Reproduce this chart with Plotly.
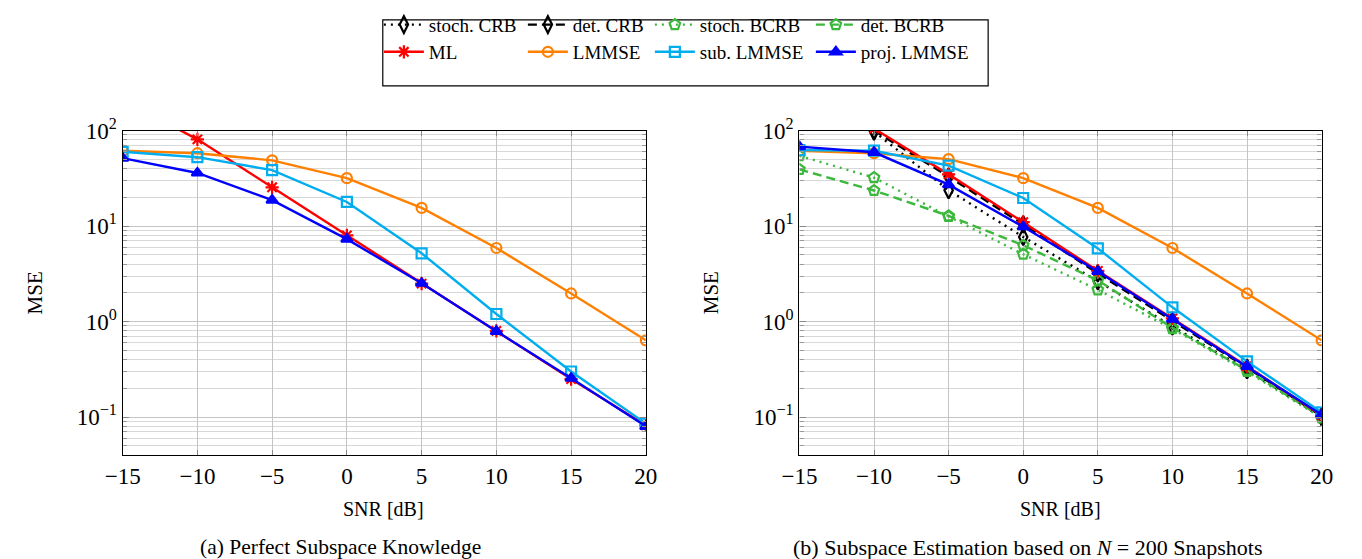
import plotly.graph_objects as go
import numpy as np

W, H = 1362, 559

snr = [-15, -10, -5, 0, 5, 10, 15, 20]

# (a) Perfect subspace knowledge
a_ml = [210, 81, 25.5, 8.0, 2.5, 0.80, 0.25, 0.082]
a_lmmse = [61.6, 58, 48.8, 31.8, 15.5, 5.9, 1.97, 0.636]
a_sub = [60, 52.7, 38.6, 17.9, 5.19, 1.2, 0.30, 0.0855]
a_proj = [51.5, 36, 18.7, 7.3, 2.52, 0.79, 0.255, 0.08]

# (b) Subspace estimation, N = 200 snapshots
b_stoch_crb = [None, 97.7, 23.8, 7.7, 2.65, 0.89, 0.31, 0.100]
b_det_crb = [None, 100, 33, 10.4, 3.2, 1.02, 0.33, 0.102]
b_stoch_bcrb = [54.5, 32.2, 12.6, 5.07, 2.15, 0.84, 0.30, 0.098]
b_det_bcrb = [39.2, 23.6, 12.8, 6.3, 2.7, 0.86, 0.31, 0.100]
b_ml = [None, 105, 34.8, 11.0, 3.4, 1.08, 0.34, 0.104]
b_lmmse = [61.6, 58, 50.3, 31.8, 15.5, 5.9, 1.97, 0.636]
b_sub = [62.6, 61.6, 43, 19.7, 5.84, 1.41, 0.383, 0.112]
b_proj = [68, 59.3, 27.2, 9.85, 3.35, 1.06, 0.34, 0.106]

ytick_vals = [0.1, 1, 10, 100]
ytick_text = ["10<sup>\u22121</sup>", "10<sup>0</sup>", "10<sup>1</sup>", "10<sup>2</sup>"]

FONT = "Times New Roman, Liberation Serif, Tinos, DejaVu Serif, serif"
RED, ORANGE, CYAN, BLUE = "#ff0000", "#ff8000", "#00aeef", "#0000ff"
GREEN, BLACK = "#3cb83c", "#000000"
LW = 2.4
DOT = "2px,5px"
DASH = "9px,5px"

def px(x):
    return x / W

def py(y):
    return 1 - y / H

fig = go.Figure()

def add(x, y, name, color, symbol, dash, col, legend, show, legendwidth, msize=10):
    fig.add_trace(go.Scatter(
        x=x, y=y, name=name, mode="lines+markers",
        line=dict(color=color, width=LW, dash=dash),
        marker=dict(symbol=symbol, size=msize, color=color,
                    line=dict(color=color, width=2.2)),
        xaxis="x" if col == 1 else "x2", yaxis="y" if col == 1 else "y2",
        showlegend=show, legend=legend, legendwidth=legendwidth,
        connectgaps=False,
    ))

# left subplot
add(snr, a_ml, "ML", RED, "asterisk-open", "solid", 1, "legend2", False, 89, msize=11)
add(snr, a_lmmse, "LMMSE", ORANGE, "circle-open", "solid", 1, "legend2", False, 72)
add(snr, a_sub, "sub. LMMSE", CYAN, "square-open", "solid", 1, "legend2", False, 106)
add(snr, a_proj, "proj. LMMSE", BLUE, "triangle-up", "solid", 1, "legend2", False, 110)

# right subplot
add(snr, b_stoch_crb, "stoch. CRB", BLACK, "diamond-tall-open", DOT, 2, "legend", True, 89, msize=12)
add(snr, b_det_crb, "det. CRB", BLACK, "diamond-tall-open", DASH, 2, "legend", True, 72, msize=12)
add(snr, b_stoch_bcrb, "stoch. BCRB", GREEN, "pentagon-open", DOT, 2, "legend", True, 106, msize=11)
add(snr, b_det_bcrb, "det. BCRB", GREEN, "pentagon-open", DASH, 2, "legend", True, 110, msize=11)
add(snr, b_ml, "ML", RED, "asterisk-open", "solid", 2, "legend2", True, 89, msize=11)
add(snr, b_lmmse, "LMMSE", ORANGE, "circle-open", "solid", 2, "legend2", True, 72)
add(snr, b_sub, "sub. LMMSE", CYAN, "square-open", "solid", 2, "legend2", True, 106)
add(snr, b_proj, "proj. LMMSE", BLUE, "triangle-up", "solid", 2, "legend2", True, 110)

minor_vals = [m * 10.0 ** e for e in range(-2, 3) for m in range(2, 10)]

def xaxis(domain, anchor):
    return dict(
        domain=domain, anchor=anchor, range=[-15, 20], tickvals=snr,
        ticks="inside", ticklen=5, tickcolor="#888", mirror="ticks",
        showline=True, linecolor="black", linewidth=1.3,
        showgrid=True, gridcolor="#c4c4c4", gridwidth=1,
        tickfont=dict(family=FONT, size=23, color="black"), zeroline=False,
    )

def yaxis(domain, anchor):
    return dict(
        domain=domain, anchor=anchor, type="log", range=[np.log10(0.04), 2],
        tickmode="array", tickvals=ytick_vals, ticktext=ytick_text,
        ticks="inside", ticklen=6, tickcolor="#888", mirror="ticks",
        showline=True, linecolor="black", linewidth=1.3,
        showgrid=True, gridcolor="#c4c4c4", gridwidth=1,
        minor=dict(tickvals=minor_vals, showgrid=True, gridcolor="#d8d8d8", gridwidth=1,
                   ticks="inside", ticklen=4, tickcolor="#999"),
        tickfont=dict(family=FONT, size=23, color="black"), zeroline=False,
    )

ydom = [py(452), py(118)]
leg_common = dict(orientation="h", xanchor="left", yanchor="middle",
                  font=dict(family=FONT, size=19, color="black"), itemwidth=40,
                  bgcolor="rgba(0,0,0,0)", borderwidth=0, itemclick=False)
fig.update_layout(
    width=W, height=H, margin=dict(l=0, r=0, t=0, b=0),
    paper_bgcolor="white", plot_bgcolor="white",
    font=dict(family=FONT, color="black"),
    xaxis=xaxis([px(107), px(642)], "y"),
    yaxis=yaxis(ydom, "x"),
    xaxis2=xaxis([px(799), px(1333)], "y2"),
    yaxis2=yaxis(ydom, "x2"),
    legend=dict(x=px(369), y=py(9), **leg_common),
    legend2=dict(x=px(369), y=py(37), **leg_common),
    shapes=[dict(type="rect", xref="paper", yref="paper", x0=px(373), x1=px(992),
                 y0=py(72), y1=py(4), line=dict(color="black", width=1.2))],
)

ann = [
    ("MSE", 17, 285, -90, 21),
    ("MSE", 708, 285, -90, 21),
    ("SNR [dB]", 374, 508, 0, 20),
    ("SNR [dB]", 1066, 508, 0, 20),
    ("(a) Perfect Subspace Knowledge", 330, 547, 0, 21.5),
    ("(b) Subspace Estimation based on <i>N</i> = 200 Snapshots", 1033, 547, 0, 22),
]
for text, x, y, ang, size in ann:
    fig.add_annotation(text=text, x=px(x), y=py(y), xref="paper", yref="paper",
                       showarrow=False, textangle=ang, xanchor="center", yanchor="middle",
                       font=dict(family=FONT, size=size, color="black"))

fig.write_html("out.html")
